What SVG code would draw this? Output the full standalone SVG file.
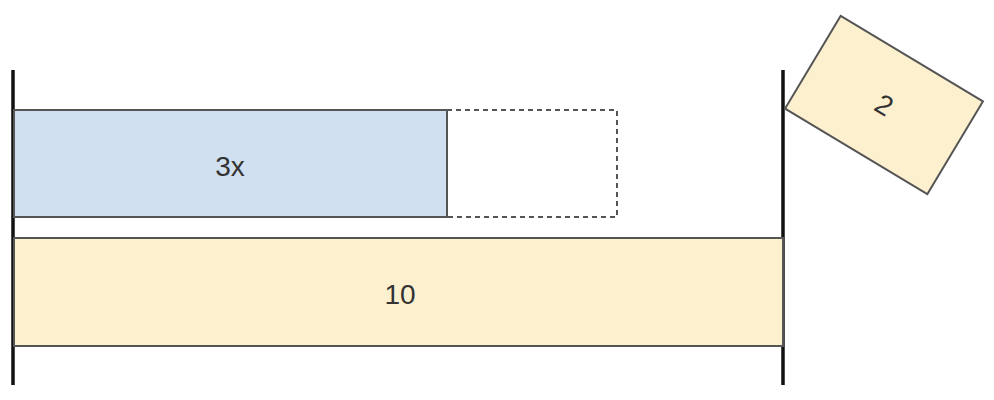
<svg xmlns="http://www.w3.org/2000/svg" width="994" height="400" viewBox="0 0 994 400">
<style>
.lbl{font-family:"Liberation Sans",Arial,sans-serif;font-size:28px;fill:#333;text-anchor:middle;dominant-baseline:central}
.box{stroke:#555;stroke-width:2}
.wall{stroke:#111;stroke-width:3.5;fill:none}
</style>
<rect width="994" height="400" fill="#fff"/>
<g id="connectors">
<line class="wall" x1="13" y1="70" x2="13" y2="385"/>
<line class="wall" x1="783" y1="70" x2="783" y2="385"/>
</g>
<g id="blue">
<rect class="box" x="14" y="110" width="433" height="107" fill="#d0e0f0"/>
<text class="lbl" x="230" y="166">3x</text>
</g>
<g id="dashed">
<rect x="447" y="110" width="170" height="107" fill="none" stroke="#555" stroke-width="2" stroke-dasharray="5,4"/>
</g>
<g id="ten">
<rect class="box" x="14" y="238" width="769" height="108" fill="#fcf0cf"/>
<text class="lbl" x="400" y="294">10</text>
</g>
<g id="two" transform="translate(884,105) rotate(31)">
<rect x="-83" y="-54" width="166" height="108" fill="#fcf0cf" stroke="#555" stroke-width="2"/>
<text class="lbl" x="0" y="0">2</text>
</g>
</svg>
